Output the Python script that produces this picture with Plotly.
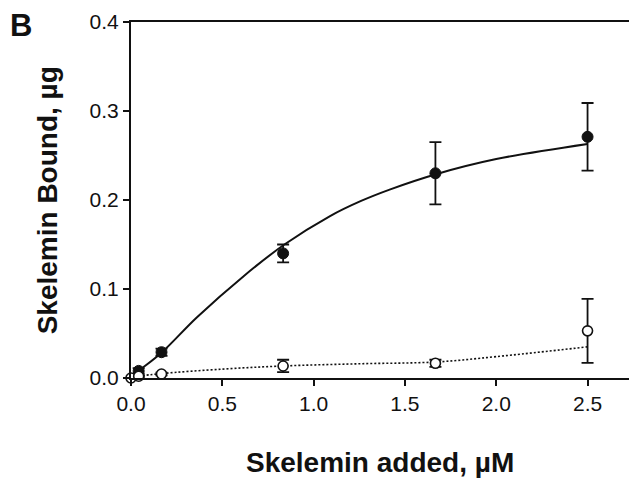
import plotly.graph_objects as go

# Data
bound_x = [0.042, 0.167, 0.833, 1.667, 2.5]
bound_y = [0.008, 0.029, 0.140, 0.230, 0.271]
bound_err = [0.003, 0.004, 0.010, 0.035, 0.038]

ctrl_x = [0.0, 0.042, 0.167, 0.833, 1.667, 2.5]
ctrl_y = [0.0, 0.002, 0.0045, 0.0135, 0.0165, 0.053]
ctrl_err = [0.0, 0.001, 0.0015, 0.007, 0.004, 0.036]

# fitted curves
fit_x = [0.02, 0.042, 0.17, 0.36, 0.62, 0.84, 1.09, 1.26, 1.42, 1.67, 2.0, 2.5]
fit_y = [0.004, 0.008, 0.029, 0.068, 0.115, 0.150, 0.182, 0.199, 0.212, 0.229, 0.246, 0.263]

fit2_x = [0.0, 0.042, 0.17, 0.5, 0.83, 1.25, 1.67, 2.0, 2.5]
fit2_y = [0.0, 0.002, 0.005, 0.010, 0.0135, 0.016, 0.018, 0.024, 0.035]

x_ticks = [0.0, 0.5, 1.0, 1.5, 2.0, 2.5]
y_ticks = [0.0, 0.1, 0.2, 0.3, 0.4]

FONT = "Arial, 'Liberation Sans', sans-serif"
INK = "#111111"

fig = go.Figure()
fig.add_trace(go.Scatter(x=fit_x, y=fit_y, mode="lines",
                         line=dict(color=INK, width=2, shape="spline"),
                         hoverinfo="skip"))
fig.add_trace(go.Scatter(x=fit2_x, y=fit2_y, mode="lines",
                         line=dict(color=INK, width=1.6, dash="2px,2px", shape="spline"),
                         hoverinfo="skip"))
fig.add_trace(go.Scatter(x=bound_x, y=bound_y, mode="markers",
                         marker=dict(symbol="circle", size=11, color=INK,
                                     line=dict(color=INK, width=1)),
                         error_y=dict(type="data", array=bound_err, color=INK,
                                      thickness=1.8, width=6),
                         cliponaxis=False))
fig.add_trace(go.Scatter(x=ctrl_x, y=ctrl_y, mode="markers",
                         marker=dict(symbol="circle", size=10, color="white",
                                     line=dict(color=INK, width=1.6)),
                         error_y=dict(type="data", array=ctrl_err, color=INK,
                                      thickness=1.8, width=6),
                         cliponaxis=False))

fig.update_layout(
    width=629, height=478,
    margin=dict(l=130.5, r=0, t=21.7, b=99.7),
    paper_bgcolor="white", plot_bgcolor="white",
    showlegend=False,
    font=dict(family=FONT, color=INK),
    xaxis=dict(range=[0, 2.727], tickvals=x_ticks,
               ticktext=[f"{v:.1f}" for v in x_ticks],
               showgrid=False, zeroline=False,
               showline=True, linecolor=INK, linewidth=2, mirror=True,
               ticks="outside", ticklen=6, tickwidth=1.8, tickcolor=INK,
               tickfont=dict(size=21, family=FONT, color=INK)),
    yaxis=dict(range=[0, 0.4], tickvals=y_ticks,
               ticktext=[f"{v:.1f}" for v in y_ticks],
               showgrid=False, zeroline=False,
               showline=True, linecolor=INK, linewidth=2, mirror=False,
               ticks="outside", ticklen=6, tickwidth=1.8, tickcolor=INK,
               tickfont=dict(size=21, family=FONT, color=INK)),
    annotations=[
        dict(text="<b>Skelemin added, µM</b>", xref="paper", yref="paper",
             x=0.5, y=-0.2375, xanchor="center", yanchor="middle",
             showarrow=False, font=dict(size=28, family=FONT, color=INK)),
        dict(text="<b>Skelemin Bound, µg</b>", xref="paper", yref="paper",
             x=-0.168, y=0.5, xanchor="center", yanchor="middle", textangle=-90,
             showarrow=False, font=dict(size=28, family=FONT, color=INK)),
        dict(text="<b>B</b>", xref="paper", yref="paper",
             x=-0.2217, y=0.991, xanchor="center", yanchor="middle",
             showarrow=False, font=dict(size=31, family=FONT, color=INK)),
    ],
)

fig.write_html("out.html")
